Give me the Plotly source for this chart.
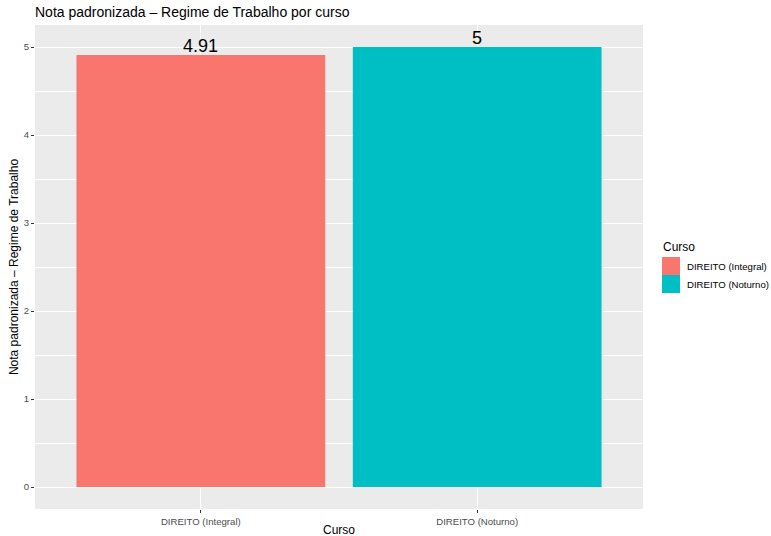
import plotly.graph_objects as go

cursos = ["DIREITO (Integral)", "DIREITO (Noturno)"]
notas = [4.91, 5.0]
rotulos = ["4.91", "5"]
cores = ["#F8766D", "#00BFC4"]
y_ticks = [0, 1, 2, 3, 4, 5]

W, H = 771, 536
L, R, T, B = 35, 128, 25, 27
pw, ph = W - L - R, H - T - B

def px_x(x):
    return (x - L) / pw

def px_y(y):
    return 1 - (y - T) / ph

fig = go.Figure()
for c, v, col in zip(cursos, notas, cores):
    fig.add_trace(go.Bar(
        x=[c], y=[v], name=c, marker=dict(color=col, line=dict(width=0)),
        width=0.9, showlegend=False, hoverinfo="skip",
    ))
for c, v, t in zip(cursos, notas, rotulos):
    fig.add_annotation(x=c, y=v, text=t, showarrow=False, yanchor="bottom",
                       yshift=-3, font=dict(size=18, color="black"))

# x-axis title
fig.add_annotation(x=0.5, y=px_y(529.5), xref="paper", yref="paper", text="Curso",
                   showarrow=False, xanchor="center", yanchor="middle",
                   font=dict(size=12, color="black"))

# legend (ggplot-style)
fig.add_annotation(x=px_x(661), y=px_y(247), xref="paper", yref="paper",
                   text="Curso", showarrow=False, xanchor="left", yanchor="middle",
                   font=dict(size=12, color="black"))
for i, (c, col) in enumerate(zip(cursos, cores)):
    y0 = 257 + 18 * i
    fig.add_shape(type="rect", xref="paper", yref="paper",
                  x0=px_x(662), x1=px_x(680), y0=px_y(y0), y1=px_y(y0 + 18),
                  fillcolor=col, line=dict(width=0))
    fig.add_annotation(x=px_x(685), y=px_y(y0 + 9), xref="paper", yref="paper",
                       text=c, showarrow=False, xanchor="left", yanchor="middle",
                       font=dict(size=9.6, color="black"))

fig.update_layout(
    width=W, height=H,
    margin=dict(l=L, r=R, t=T, b=B),
    paper_bgcolor="white", plot_bgcolor="#EBEBEB",
    font=dict(family="Liberation Sans", color="black"),
    title=dict(text="Nota padronizada – Regime de Trabalho por curso",
               x=35 / W, xanchor="left", y=1 - 12 / H, yanchor="middle",
               font=dict(size=14, color="black")),
    showlegend=False,
)
fig.update_xaxes(
    type="category", range=[-0.6, 1.6], automargin=False,
    showgrid=True, gridcolor="white", gridwidth=1.1,
    ticks="outside", ticklen=3, tickcolor="#333333", tickwidth=1,
    tickfont=dict(size=9.6, color="#4D4D4D"),
    zeroline=False, showline=False,
)
fig.update_yaxes(
    range=[-0.25, 5.25], tickvals=y_ticks, automargin=False,
    showgrid=True, gridcolor="white", gridwidth=1.1,
    minor=dict(dtick=0.5, tick0=0.5, showgrid=True, gridcolor="white", gridwidth=0.5),
    ticks="outside", ticklen=3, tickcolor="#333333", tickwidth=1,
    tickfont=dict(size=9.6, color="#4D4D4D"),
    title=dict(text="Nota padronizada – Regime de Trabalho", font=dict(size=12), standoff=2),
    zeroline=False, showline=False,
)

fig.write_html("out.html", config={"displayModeBar": False},
               post_script="document.body.style.margin='0';document.body.style.overflow='hidden';")
